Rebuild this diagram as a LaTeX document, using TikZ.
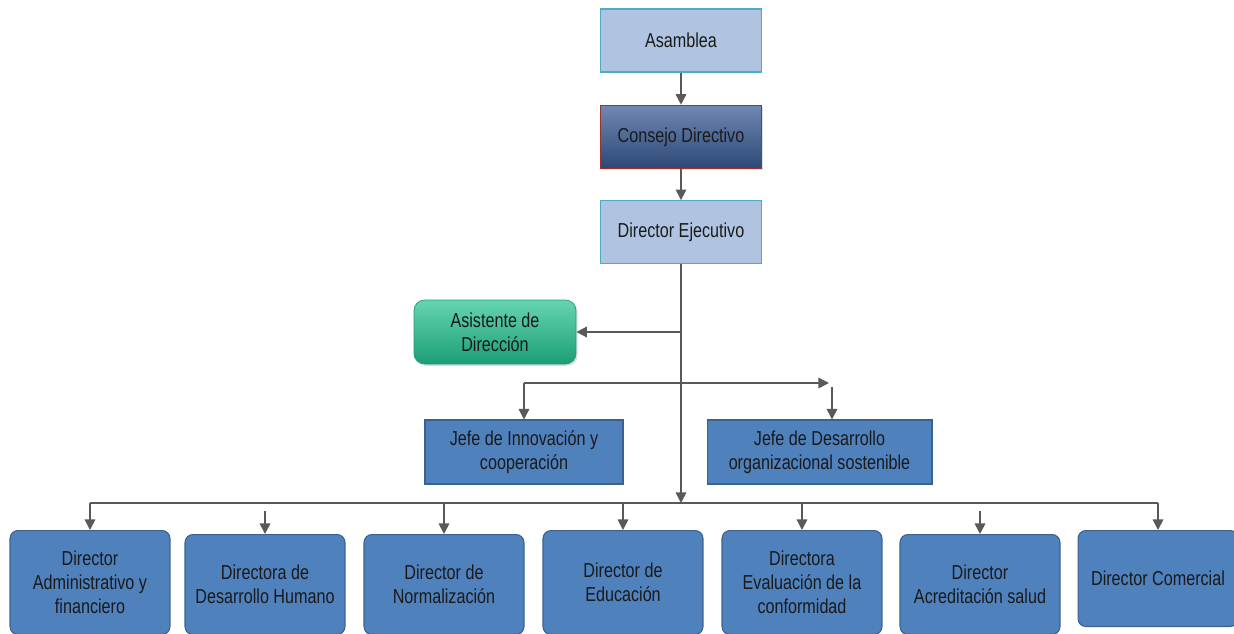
\documentclass[tikz,border=0pt]{standalone}
\usepackage{fontspec}
\setmainfont{Liberation Sans}[FakeStretch=0.8]
\usetikzlibrary{positioning}
\usetikzlibrary{arrows.meta}
\usetikzlibrary{shadows}

\definecolor{lblue}{HTML}{B0C4E2}
\definecolor{lborder}{HTML}{4BACC6}
\definecolor{mblue}{HTML}{4F81BD}
\definecolor{mborder}{HTML}{3A6190}
\definecolor{ctop}{HTML}{7088B2}
\definecolor{cbot}{HTML}{2C4876}
\definecolor{cborder}{HTML}{A0302F}
\definecolor{gtop}{HTML}{66D4B3}
\definecolor{gbot}{HTML}{1B9E75}
\definecolor{linegray}{HTML}{595959}
\definecolor{txt}{HTML}{1A1A1A}

\begin{document}
\begin{tikzpicture}[x=0.02cm, y=-0.02cm, node distance=0.64cm,
  every node/.style={font=\fontsize{11.5}{13.8}\selectfont, text=txt, align=center},
  headbox/.style={draw=lborder, fill=lblue, line width=0.8pt, minimum width=3.22cm, minimum height=1.26cm},
  board/.style={draw=cborder, top color=ctop, bottom color=cbot, line width=0.8pt, minimum width=3.22cm, minimum height=1.26cm, drop shadow={opacity=0.25, shadow xshift=1pt, shadow yshift=-1pt}},
  assist/.style={draw=gbot, top color=gtop, bottom color=gbot, rounded corners=6pt, minimum width=3.24cm, minimum height=1.28cm, drop shadow={opacity=0.25, shadow xshift=1pt, shadow yshift=-1pt}},
  chief/.style={draw=mborder, fill=mblue, line width=0.6pt, minimum height=1.28cm},
  dirbox/.style={draw=mborder, fill=mblue, line width=0.6pt, rounded corners=4.5pt, minimum width=3.2cm, anchor=north},
  ln/.style={draw=linegray, line width=0.9pt},
  arr/.style={ln, -{Triangle[length=6pt, width=6pt]}}]

\useasboundingbox (0,0) rectangle (1234,633);

% top chain
\node[headbox] (asam) at (681,40.5) {Asamblea};
\node[board] (cons) [below=of asam] {Consejo Directivo};
\node[headbox] (dir) [below=0.62cm of cons] {Director Ejecutivo};

% staff
\node[assist] (asis) at (495,332) {Asistente de\\Dirección};
\node[chief, minimum width=3.96cm] (jin) at (524,452) {Jefe de Innovación y\\cooperación};
\node[chief, minimum width=4.5cm] (jdo) at (819.5,452) {Jefe de Desarrollo\\organizacional sostenible};

% directors
\node[dirbox, minimum height=2.08cm] (d1) at (90,530) {Director\\Administrativo y\\financiero};
\node[dirbox, minimum height=2.0cm] (d2) at (265,534) {Directora de\\Desarrollo Humano};
\node[dirbox, minimum height=2.0cm] (d3) at (444,534) {Director de\\Normalización};
\node[dirbox, minimum height=2.08cm] (d4) at (623,530) {Director de\\Educación};
\node[dirbox, minimum height=2.08cm] (d5) at (802,530) {Directora\\Evaluación de la\\conformidad};
\node[dirbox, minimum height=2.0cm] (d6) at (980,534) {Director\\Acreditación salud};
\node[dirbox, minimum height=1.92cm] (d7) at (1158,530) {Director Comercial};

% helper points
\coordinate (bus) at (681,503);
\coordinate (asisJ) at (681,332);
\coordinate (hL) at (524,383);
\coordinate (hR) at (829,383);
\coordinate (jdoIn) at (832,387);
\coordinate (d2In) at (265,511);
\coordinate (d6In) at (980,511);

\draw[arr] (asam) to (cons);
\draw[arr] (cons) to (dir);
\draw[arr] (dir.south) to (bus);
\draw[arr] (asisJ) to (asis.east);

\draw[arr] (hL) to (hR);
\draw[arr] (hL) to (jin.north);
\draw[arr] (jdoIn) to (jdoIn |- jdo.north);

\draw[ln] (d1.north |- bus) -- (d7.north |- bus);
\draw[arr] (d1.north |- bus) to (d1.north);
\draw[arr] (d2In) to (d2.north);
\draw[arr] (d3.north |- bus) to (d3.north);
\draw[arr] (d4.north |- bus) to (d4.north);
\draw[arr] (d5.north |- bus) to (d5.north);
\draw[arr] (d6In) to (d6.north);
\draw[arr] (d7.north |- bus) to (d7.north);

\end{tikzpicture}
\end{document}
